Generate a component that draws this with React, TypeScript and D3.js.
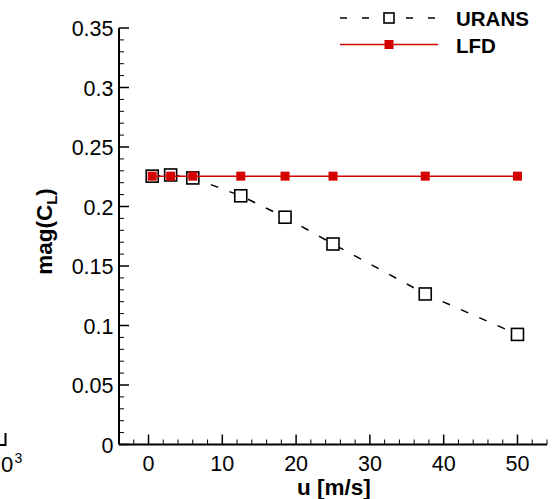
import React from "react";
import * as d3 from "d3";

const uVals = [0.5, 3, 6, 12.5, 18.5, 25, 37.5, 50];
const uransVals = [0.2255, 0.2265, 0.224, 0.209, 0.191, 0.1685, 0.1265, 0.0925];
const lfdVals = [0.2255, 0.2255, 0.2255, 0.2255, 0.2255, 0.2255, 0.2255, 0.2255];
const xTicks = [0, 10, 20, 30, 40, 50];
const yTicks = [0, 0.05, 0.1, 0.15, 0.2, 0.25, 0.3, 0.35];
const yTickLabels = ["0", "0.05", "0.1", "0.15", "0.2", "0.25", "0.3", "0.35"];

export default function App() {
  const W = 554, H = 499;
  const x = d3.scaleLinear().domain([-4, 54]).range([119, 547]);
  const y = d3.scaleLinear().domain([0, 0.35]).range([444.5, 28]);
  const font = "'Liberation Sans', Arial, Helvetica, sans-serif";
  const line = d3.line<number>().x((_, i) => x(uVals[i])).y((d) => y(d));
  const xMinor = d3.range(-4, 54.01, 2).filter((v) => Math.abs(v % 10) > 0.01);
  const yMinor = d3.range(0, 0.3501, 0.01).filter((v) => !yTicks.some((t) => Math.abs(t - v) < 1e-6));
  const x0 = x.range()[0], y0 = y.range()[0];
  const red = "#d40000";
  return (
    <svg width={W} height={H} style={{ position: "absolute", left: 0, top: 0, background: "#fff" }} fontFamily={font}>
      {/* clipped artifact of neighbouring panel */}
      <path d="M0,445 H5.5 V433" fill="none" stroke="#000" strokeWidth={2} />
      <text x={1} y={472} fontSize={22}>0</text>
      <text x={14.5} y={463} fontSize={14}>3</text>

      {/* axes */}
      <line x1={x0} x2={x0} y1={y(0.35)} y2={y0} stroke="#000" strokeWidth={2} />
      <line x1={x0} x2={x.range()[1]} y1={y0} y2={y0} stroke="#000" strokeWidth={2} />
      {xTicks.map((t) => (
        <g key={"xt" + t}>
          <line x1={x(t)} x2={x(t)} y1={y0} y2={y0 - 10} stroke="#000" strokeWidth={1.5} />
          <text x={x(t)} y={470.5} fontSize={21.5} textAnchor="middle">{t}</text>
        </g>
      ))}
      {xMinor.map((t) => (
        <line key={"xm" + t} x1={x(t)} x2={x(t)} y1={y0} y2={y0 - 5} stroke="#000" strokeWidth={1} />
      ))}
      {yTicks.map((t, i) => (
        <g key={"yt" + t}>
          <line x1={x0} x2={x0 + 10} y1={y(t)} y2={y(t)} stroke="#000" strokeWidth={1.5} />
          <text x={113.5} y={y(t) + 8} fontSize={21.5} textAnchor="end">{yTickLabels[i]}</text>
        </g>
      ))}
      {yMinor.map((t) => (
        <line key={"ym" + t} x1={x0} x2={x0 + 5} y1={y(t)} y2={y(t)} stroke="#000" strokeWidth={1} />
      ))}

      {/* axis titles */}
      <text x={334} y={494.5} fontSize={22.5} fontWeight="bold" textAnchor="middle">u [m/s]</text>
      <text transform="translate(52,231.5) rotate(-90)" fontSize={22.5} fontWeight="bold" textAnchor="middle">
        mag(C<tspan fontSize={15} dy={5}>L</tspan><tspan dy={-5}>)</tspan>
      </text>

      {/* URANS */}
      <path d={line(uransVals) || ""} fill="none" stroke="#000" strokeWidth={1.5} strokeDasharray="8,12" />
      {uransVals.map((v, i) => (
        <rect key={"u" + i} x={x(uVals[i]) - 6} y={y(v) - 6} width={12} height={12} fill="#fff" stroke="#000" strokeWidth={1.6} />
      ))}

      {/* LFD */}
      <path d={line(lfdVals) || ""} fill="none" stroke={red} strokeWidth={1.5} />
      {lfdVals.map((v, i) => (
        <rect key={"l" + i} x={x(uVals[i]) - 4.5} y={y(v) - 4.5} width={9} height={9} fill={red} />
      ))}

      {/* legend */}
      <line x1={340} x2={438} y1={18} y2={18} stroke="#000" strokeWidth={1.5} strokeDasharray="7,15" />
      <rect x={384} y={13} width={10} height={10} fill="#fff" stroke="#000" strokeWidth={1.6} />
      <text x={456} y={26} fontSize={20.5} fontWeight="bold">URANS</text>
      <line x1={340} x2={438} y1={44.5} y2={44.5} stroke={red} strokeWidth={1.5} />
      <rect x={384.5} y={40} width={9} height={9} fill={red} />
      <text x={456} y={52.5} fontSize={20.5} fontWeight="bold">LFD</text>
    </svg>
  );
}
